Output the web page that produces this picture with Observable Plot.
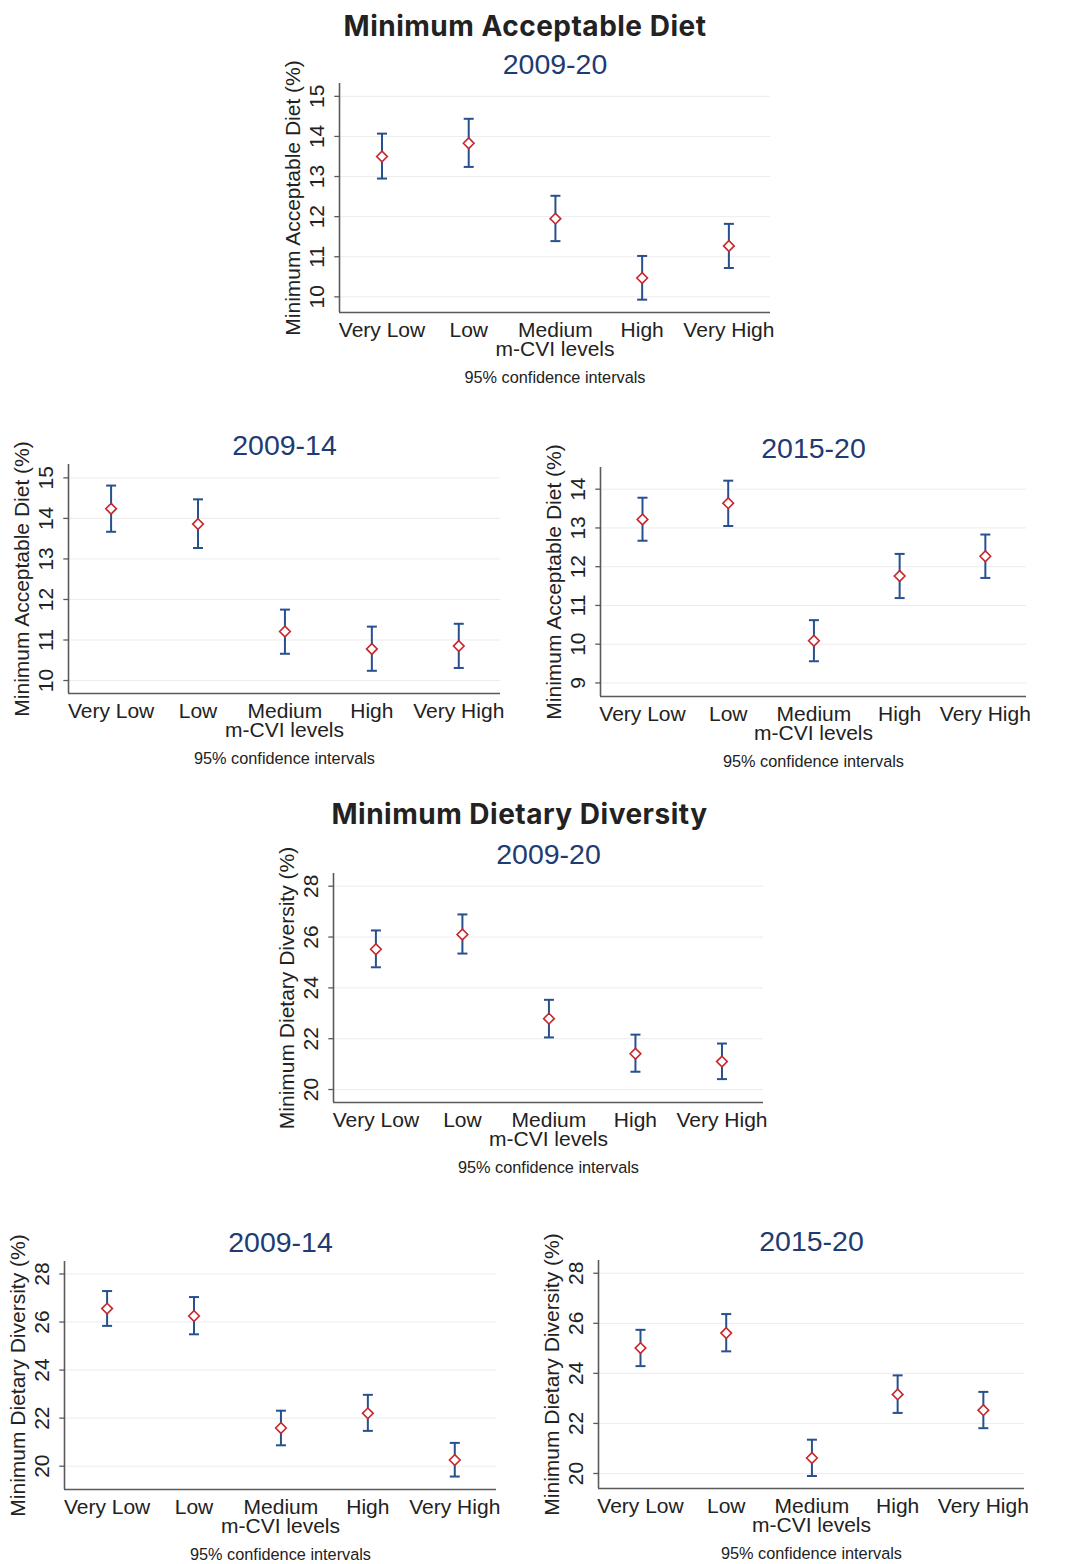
<!DOCTYPE html>
<html>
<head>
<meta charset="utf-8">
<script src="https://cdn.jsdelivr.net/npm/d3@7"></script>
<script src="https://cdn.jsdelivr.net/npm/@observablehq/plot@0.6"></script>
<style>
  html, body { margin: 0; padding: 0; background: #fff; }
  #page { position: relative; width: 1067px; height: 1564px; background: #fff; overflow: hidden; }
  .section-title {
    position: absolute; left: 0; text-align: center;
    font-family: Inter, "Open Sans", sans-serif; font-weight: 700;
    font-size: 28px; line-height: 28px; letter-spacing: 0.5px; color: #222; white-space: nowrap;
  }
  .panel { position: absolute; }
  .panel svg { overflow: visible; }
</style>
</head>
<body>
<div id="page"></div>
<script>
// m-CVI levels on the x axis
const levels = ["Very Low", "Low", "Medium", "High", "Very High"];

// Tick labels
const madTicks = [10, 11, 12, 13, 14, 15];
const madTicks1520 = [9, 10, 11, 12, 13, 14];
const mddTicks = [20, 22, 24, 26, 28];

// Minimum Acceptable Diet (%), 2009-20
const mad0920Mean = [13.50, 13.83, 11.95, 10.47, 11.27];
const mad0920Lo   = [12.95, 13.24, 11.39,  9.93, 10.72];
const mad0920Hi   = [14.07, 14.44, 12.52, 11.02, 11.82];

// Minimum Acceptable Diet (%), 2009-14
const mad0914Mean = [14.24, 13.86, 11.21, 10.78, 10.85];
const mad0914Lo   = [13.67, 13.27, 10.66, 10.24, 10.31];
const mad0914Hi   = [14.81, 14.47, 11.75, 11.33, 11.40];

// Minimum Acceptable Diet (%), 2015-20
const mad1520Mean = [13.22, 13.64, 10.09, 11.76, 12.27];
const mad1520Lo   = [12.67, 13.05,  9.56, 11.19, 11.71];
const mad1520Hi   = [13.78, 14.22, 10.62, 12.33, 12.83];

// Minimum Dietary Diversity (%), 2009-20
const mdd0920Mean = [25.52, 26.10, 22.79, 21.41, 21.10];
const mdd0920Lo   = [24.81, 25.35, 22.05, 20.70, 20.41];
const mdd0920Hi   = [26.26, 26.89, 23.53, 22.16, 21.81];

// Minimum Dietary Diversity (%), 2009-14
const mdd0914Mean = [26.56, 26.25, 21.59, 22.20, 20.26];
const mdd0914Lo   = [25.84, 25.49, 20.87, 21.47, 19.57];
const mdd0914Hi   = [27.29, 27.04, 22.31, 22.97, 20.97];

// Minimum Dietary Diversity (%), 2015-20
const mdd1520Mean = [25.01, 25.61, 20.62, 23.16, 22.53];
const mdd1520Lo   = [24.29, 24.88, 19.90, 22.42, 21.81];
const mdd1520Hi   = [25.74, 26.37, 21.35, 23.92, 23.26];

const sectionTitles = ["Minimum Acceptable Diet", "Minimum Dietary Diversity"];
const xLabel = "m-CVI levels";
const caption = "95% confidence intervals";
const madLabel = "Minimum Acceptable Diet (%)";
const mddLabel = "Minimum Dietary Diversity (%)";

// Styling
const FONT = '"Liberation Sans", Arial, Helvetica, sans-serif';
const TEXT = "#222";
const AXIS = "#5a5a5a";
const GRID = "#ececec";
const CI_BLUE = "#27508f";
const MEAN_RED = "#c8262b";
const TITLE_BLUE = "#1f3b73";
const LABEL_SIZE = 21;

// Panel layout: plot frame edges in page pixels, and the y range shown
const panels = [
  {period: "2009-20", label: madLabel, ticks: madTicks, mean: mad0920Mean, lo: mad0920Lo, hi: mad0920Hi,
   frame: {left: 339, top: 83, right: 770, bottom: 312}, yDomain: [9.61, 15.32]},
  {period: "2009-14", label: madLabel, ticks: madTicks, mean: mad0914Mean, lo: mad0914Lo, hi: mad0914Hi,
   frame: {left: 68, top: 464, right: 500, bottom: 693}, yDomain: [9.68, 15.33]},
  {period: "2015-20", label: madLabel, ticks: madTicks1520, mean: mad1520Mean, lo: mad1520Lo, hi: mad1520Hi,
   frame: {left: 600, top: 467, right: 1026, bottom: 696}, yDomain: [8.65, 14.56]},
  {period: "2009-20", label: mddLabel, ticks: mddTicks, mean: mdd0920Mean, lo: mdd0920Lo, hi: mdd0920Hi,
   frame: {left: 333, top: 873, right: 763, bottom: 1102}, yDomain: [19.49, 28.5]},
  {period: "2009-14", label: mddLabel, ticks: mddTicks, mean: mdd0914Mean, lo: mdd0914Lo, hi: mdd0914Hi,
   frame: {left: 64, top: 1261, right: 496, bottom: 1489}, yDomain: [19.03, 28.52]},
  {period: "2015-20", label: mddLabel, ticks: mddTicks, mean: mdd1520Mean, lo: mdd1520Lo, hi: mdd1520Hi,
   frame: {left: 598, top: 1260, right: 1024, bottom: 1488}, yDomain: [19.40, 28.51]}
];

const titleLayout = [
  {top: 12, width: 1050},
  {top: 800, width: 1039}
];

// x positions are level indices, padded so the first and last levels sit inside the frame
const xDomain = [-0.49, 4.48];

// Horizontal stroke symbol used for CI caps and y-axis tick marks
const hline = {
  draw(context, size) {
    const r = Math.sqrt(size / Math.PI);
    context.moveTo(-r, 0);
    context.lineTo(r, 0);
  }
};

const M = {left: 64, top: 48, right: 14, bottom: 84};

const page = document.getElementById("page");

sectionTitles.forEach((t, k) => {
  const d = document.createElement("div");
  d.className = "section-title";
  d.style.top = titleLayout[k].top + "px";
  d.style.width = titleLayout[k].width + "px";
  d.textContent = t;
  page.appendChild(d);
});

for (const p of panels) {
  const rows = levels.map((level, i) => ({i, level, mean: p.mean[i], lo: p.lo[i], hi: p.hi[i]}));
  const f = p.frame;
  const width = M.left + (f.right - f.left) + M.right;
  const height = M.top + (f.bottom - f.top) + M.bottom;

  const chart = Plot.plot({
    width, height,
    marginLeft: M.left, marginTop: M.top, marginRight: M.right, marginBottom: M.bottom,
    style: {fontFamily: FONT, color: TEXT, background: "transparent", overflow: "visible"},
    x: {type: "linear", domain: xDomain, axis: null},
    y: {type: "linear", domain: p.yDomain, axis: null},
    marks: [
      // gridlines
      Plot.ruleY(p.ticks, {stroke: GRID, strokeWidth: 1}),
      // axis lines
      Plot.ruleY([p.yDomain[0]], {stroke: AXIS, strokeWidth: 1.6}),
      Plot.ruleX([xDomain[0]], {stroke: AXIS, strokeWidth: 1.6}),
      // y tick marks
      Plot.dot(p.ticks, {y: (d) => d, frameAnchor: "left", dx: -2.6, r: 2.6, symbol: hline, stroke: AXIS, strokeWidth: 1.3, fill: "none"}),
      // y tick labels, rotated
      Plot.text(p.ticks, {y: (d) => d, text: (d) => String(d), frameAnchor: "left", dx: -16, rotate: -90,
        textAnchor: "middle", lineAnchor: "bottom", fontSize: LABEL_SIZE, fill: TEXT}),
      // y axis title
      Plot.text([p.label], {frameAnchor: "left", dx: -40, rotate: -90, textAnchor: "middle",
        lineAnchor: "bottom", fontSize: LABEL_SIZE, fill: TEXT}),
      // x tick labels
      Plot.text(rows, {x: "i", text: "level", frameAnchor: "bottom", dy: 24.5, lineAnchor: "bottom", fontSize: LABEL_SIZE, fill: TEXT}),
      // x axis title and note
      Plot.text([xLabel], {frameAnchor: "bottom", dy: 43.5, lineAnchor: "bottom", fontSize: LABEL_SIZE, fill: TEXT}),
      Plot.text([caption], {frameAnchor: "bottom", dy: 70, lineAnchor: "bottom", fontSize: 16.3, fill: TEXT}),
      // period title
      Plot.text([p.period], {frameAnchor: "top", dy: -10, lineAnchor: "bottom", fontSize: 28.5, fill: TITLE_BLUE}),
      // confidence intervals
      Plot.ruleX(rows, {x: "i", y1: "lo", y2: "hi", stroke: CI_BLUE, strokeWidth: 2}),
      Plot.dot(rows, {x: "i", y: "hi", r: 5, symbol: hline, stroke: CI_BLUE, strokeWidth: 2, fill: "none"}),
      Plot.dot(rows, {x: "i", y: "lo", r: 5, symbol: hline, stroke: CI_BLUE, strokeWidth: 2, fill: "none"}),
      // point estimates
      Plot.dot(rows, {x: "i", y: "mean", r: 4.8, symbol: "diamond2", stroke: MEAN_RED, strokeWidth: 1.6, fill: "white"})
    ]
  });

  const wrap = document.createElement("div");
  wrap.className = "panel";
  wrap.style.left = (f.left - M.left) + "px";
  wrap.style.top = (f.top - M.top) + "px";
  wrap.appendChild(chart);
  page.appendChild(wrap);
}
</script>
</body>
</html>
